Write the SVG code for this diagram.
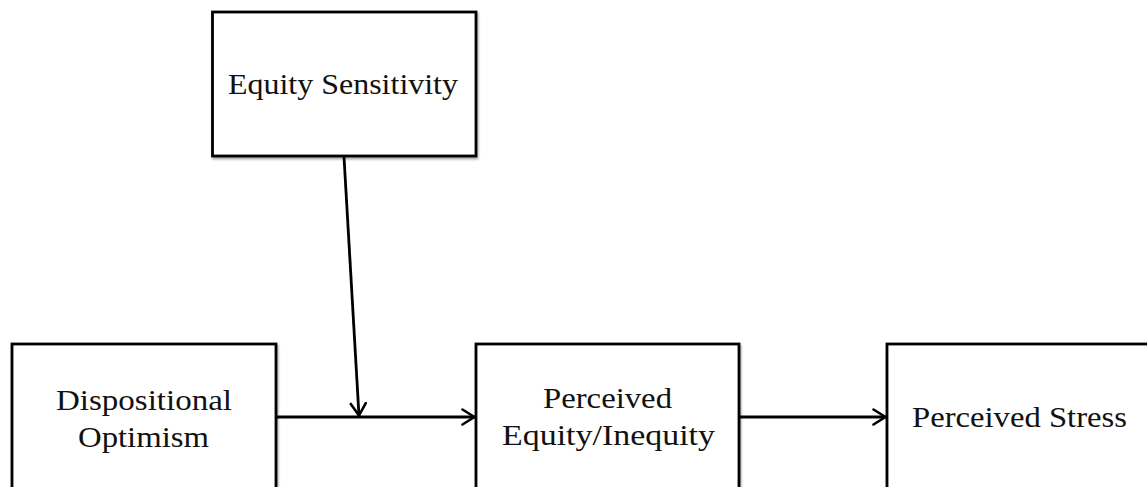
<svg xmlns="http://www.w3.org/2000/svg" width="1147" height="487" viewBox="0 0 1147 487">
<defs>
<marker id="arr" viewBox="0 0 15 18" refX="14" refY="9" markerWidth="15" markerHeight="18" markerUnits="userSpaceOnUse" orient="auto">
<path d="M1.5,1.5 L13.5,9 L1.5,16.5" fill="none" stroke="#000" stroke-width="2.6" stroke-linecap="round" stroke-linejoin="round"/>
</marker>
<filter id="sh" x="-5%" y="-5%" width="110%" height="110%">
<feDropShadow dx="1" dy="2" stdDeviation="1.2" flood-color="#000" flood-opacity="0.35"/>
</filter>
</defs>
<style>
.box{fill:#fff;stroke:#000;stroke-width:2.8;filter:url(#sh)}
.lbl{font-family:"Liberation Serif","Times New Roman",serif;font-size:28.5px;fill:#111;text-anchor:middle}
.con{stroke:#000;stroke-width:2.8;fill:none;marker-end:url(#arr)}
</style>
<rect width="1147" height="487" fill="#fff"/>
<g id="connectors">
<line class="con" x1="277" y1="417" x2="475" y2="417"/>
<line class="con" x1="344" y1="157" x2="359" y2="416"/>
<line class="con" x1="740" y1="417" x2="886" y2="417"/>
</g>
<g id="equity-sensitivity">
<rect class="box" x="212.5" y="12" width="263.5" height="144"/>
<text class="lbl" x="343" y="94" textLength="230" lengthAdjust="spacingAndGlyphs">Equity Sensitivity</text>
</g>
<g id="dispositional-optimism">
<rect class="box" x="12" y="344" width="264" height="160"/>
<text class="lbl" x="144" y="410" textLength="176" lengthAdjust="spacingAndGlyphs">Dispositional</text>
<text class="lbl" x="143.5" y="447" textLength="131" lengthAdjust="spacingAndGlyphs">Optimism</text>
</g>
<g id="perceived-equity">
<rect class="box" x="476" y="344" width="263" height="160"/>
<text class="lbl" x="607.5" y="408" textLength="129" lengthAdjust="spacingAndGlyphs">Perceived</text>
<text class="lbl" x="608.5" y="445" textLength="213" lengthAdjust="spacingAndGlyphs">Equity/Inequity</text>
</g>
<g id="perceived-stress">
<rect class="box" x="887" y="344" width="264" height="160"/>
<text class="lbl" x="1019.5" y="427" textLength="215" lengthAdjust="spacingAndGlyphs">Perceived Stress</text>
</g>
</svg>
